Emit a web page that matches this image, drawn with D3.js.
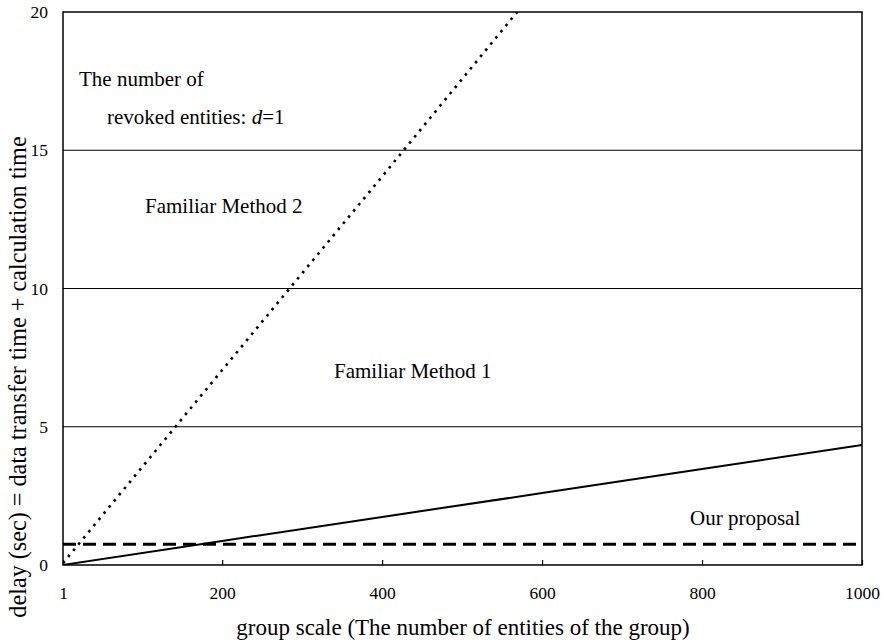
<!DOCTYPE html>
<html>
<head>
<meta charset="utf-8">
<script src="https://cdn.jsdelivr.net/npm/d3@7"></script>
<style>
  body { margin: 0; background: #fff; }
  svg text { font-family: "Liberation Serif", "Times New Roman", serif; fill: #000; }
</style>
</head>
<body>
<div class="chart"></div>
<script>
// group sizes sampled
const groupSize = [1, 200, 400, 600, 800, 1000];
// delay (sec) per method
const method2 = [0.07, 7.05, 14.05, 21.1, 28.1, 35.1];
const method1 = [0.004, 0.87, 1.74, 2.6, 3.47, 4.34];
const proposal = [0.75, 0.75, 0.75, 0.75, 0.75, 0.75];

const xTicks = [1, 200, 400, 600, 800, 1000];
const yTicks = [0, 5, 10, 15, 20];

var width = 887;
var height = 644;
var margin = { left: 63, right: 25, top: 12, bottom: 79 };
var serif = '"Liberation Serif", "Times New Roman", serif';

var svg = d3.select(".chart").append("svg")
    .attr("width", width)
    .attr("height", height)
    .attr("font-family", serif);

var x = d3.scaleLinear().domain([1, 1000]).range([margin.left, width - margin.right]);
var y = d3.scaleLinear().domain([0, 20]).range([height - margin.bottom, margin.top]);

svg.append("defs").append("clipPath").attr("id", "plot")
    .append("rect")
    .attr("x", x(1)).attr("y", y(20))
    .attr("width", x(1000) - x(1)).attr("height", y(0) - y(20));

// gridlines
svg.append("g")
    .selectAll("line")
    .data(yTicks.filter(d => d > 0 && d < 20))
    .join("line")
    .attr("x1", x(1)).attr("x2", x(1000))
    .attr("y1", d => y(d)).attr("y2", d => y(d))
    .attr("stroke", "#000").attr("stroke-width", 1);

// y axis labels
svg.append("g")
    .attr("transform", `translate(${x(1)},0)`)
    .call(d3.axisLeft(y).tickValues(yTicks).tickSize(0).tickPadding(15))
    .attr("font-family", serif)
    .attr("font-size", 17.5)
    .call(g => g.select(".domain").remove());

// x axis
svg.append("g")
    .attr("transform", `translate(0,${y(0)})`)
    .call(d3.axisBottom(x).tickValues(xTicks).tickFormat(d3.format("d")).tickSize(-5).tickPadding(22))
    .attr("font-family", serif)
    .attr("font-size", 17.5)
    .call(g => g.select(".domain").remove())
    .call(g => g.selectAll(".tick line").attr("stroke", "#000").attr("stroke-width", 1.2));

var line = d3.line().x((d, i) => x(groupSize[i])).y(d => y(d));

var lines = svg.append("g").attr("clip-path", "url(#plot)");

lines.append("path")
    .attr("d", line(method2))
    .attr("fill", "none").attr("stroke", "#000")
    .attr("stroke-width", 2.6)
    .attr("stroke-dasharray", "2.6,5.4");

lines.append("path")
    .attr("d", line(method1))
    .attr("fill", "none").attr("stroke", "#000")
    .attr("stroke-width", 2);

lines.append("path")
    .attr("d", line(proposal))
    .attr("fill", "none").attr("stroke", "#000")
    .attr("stroke-width", 3)
    .attr("stroke-dasharray", "13,7");

// frame
svg.append("rect")
    .attr("x", x(1)).attr("y", y(20))
    .attr("width", x(1000) - x(1)).attr("height", y(0) - y(20))
    .attr("fill", "none").attr("stroke", "#000").attr("stroke-width", 1.5);

// annotations
var notes = svg.append("g").attr("font-size", 21);
notes.append("text").attr("x", 79).attr("y", 86).text("The number of");
var rev = notes.append("text").attr("x", 107).attr("y", 124);
rev.append("tspan").text("revoked entities: ");
rev.append("tspan").style("font-style", "italic").text("d");
rev.append("tspan").text("=1");
notes.append("text").attr("x", 145).attr("y", 213).text("Familiar Method 2");
notes.append("text").attr("x", 334).attr("y", 378).text("Familiar Method 1");
notes.append("text").attr("x", 690).attr("y", 525).text("Our proposal");

// axis titles
svg.append("text")
    .attr("x", 463).attr("y", 635)
    .attr("text-anchor", "middle")
    .attr("font-size", 23)
    .text("group scale (The number of entities of the group)");

svg.append("text")
    .attr("transform", "translate(26,377) rotate(-90)")
    .attr("text-anchor", "middle")
    .attr("font-size", 24.2)
    .text("delay (sec) = data transfer time + calculation time");
</script>
</body>
</html>
